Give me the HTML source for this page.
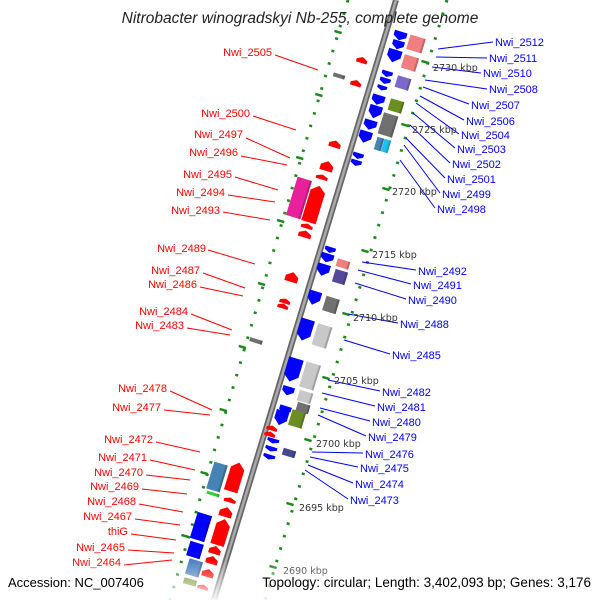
<!DOCTYPE html>
<html><head><meta charset="utf-8"><style>
html,body{margin:0;padding:0;background:#fff}
svg{display:block}
.r{fill:#ff0000;font:11px "Liberation Sans",sans-serif}
.b{fill:#0000ff;font:11px "Liberation Sans",sans-serif}
.k{fill:#333;font:9.5px "DejaVu Sans","Liberation Sans",sans-serif}
</style></head><body>
<svg id="s" width="600" height="600" viewBox="0 0 600 600" xmlns="http://www.w3.org/2000/svg">
<defs>
<linearGradient id="fade" x1="0" y1="0" x2="0" y2="1">
<stop offset="0" stop-color="#fff" stop-opacity="0"/><stop offset="1" stop-color="#fff" stop-opacity="0.9"/>
</linearGradient>
</defs>
<rect width="600" height="600" fill="#fff"/>
<g id="dots"></g>
<line x1="396" y1="0" x2="214" y2="600" stroke="#666" stroke-width="6"/>
<line x1="396" y1="0" x2="214" y2="600" stroke="#aaa" stroke-width="2.5"/>
<g id="feat"></g>
<g stroke="#0000ff" stroke-width="1">
<line x1="438" y1="49" x2="493" y2="42"/><line x1="436" y1="57" x2="487" y2="58"/>
<line x1="432" y1="67" x2="481" y2="73"/><line x1="425" y1="80" x2="487" y2="89"/>
<line x1="423" y1="87" x2="469" y2="104"/><line x1="420" y1="96" x2="464" y2="120"/>
<line x1="416" y1="103" x2="459" y2="134"/><line x1="413" y1="113" x2="455" y2="148"/>
<line x1="410" y1="125" x2="450" y2="163"/><line x1="406" y1="138" x2="445" y2="178"/>
<line x1="404" y1="145" x2="440" y2="193"/><line x1="400" y1="160" x2="435" y2="208"/>
<line x1="362" y1="262" x2="416" y2="270"/><line x1="358" y1="270" x2="411" y2="284"/>
<line x1="355" y1="283" x2="406" y2="299"/><line x1="348" y1="314" x2="398" y2="323"/>
<line x1="344" y1="340" x2="390" y2="354"/><line x1="328" y1="380" x2="380" y2="391"/>
<line x1="322" y1="393" x2="375" y2="406"/><line x1="320" y1="408" x2="370" y2="421"/>
<line x1="318" y1="415" x2="366" y2="436"/><line x1="312" y1="452" x2="363" y2="453"/>
<line x1="310" y1="457" x2="358" y2="467"/><line x1="308" y1="465" x2="353" y2="483"/>
<line x1="305" y1="470" x2="348" y2="499"/>
</g>
<g stroke="#ff0000" stroke-width="1">
<line x1="275" y1="55" x2="318" y2="70"/><line x1="253" y1="116" x2="296" y2="130"/>
<line x1="246" y1="138" x2="290" y2="158"/><line x1="241" y1="156" x2="287" y2="165"/>
<line x1="235" y1="177" x2="278" y2="190"/><line x1="228" y1="195" x2="275" y2="202"/>
<line x1="223" y1="212" x2="270" y2="220"/><line x1="208" y1="250" x2="255" y2="264"/>
<line x1="203" y1="273" x2="245" y2="288"/><line x1="200" y1="287" x2="243" y2="296"/>
<line x1="191" y1="314" x2="232" y2="330"/><line x1="187" y1="328" x2="230" y2="335"/>
<line x1="170" y1="391" x2="212" y2="410"/><line x1="164" y1="410" x2="210" y2="415"/>
<line x1="156" y1="442" x2="200" y2="452"/><line x1="150" y1="460" x2="195" y2="470"/>
<line x1="146" y1="475" x2="190" y2="480"/><line x1="142" y1="489" x2="187" y2="494"/>
<line x1="139" y1="504" x2="183" y2="512"/><line x1="135" y1="519" x2="180" y2="525"/>
<line x1="131" y1="534" x2="176" y2="540"/><line x1="128" y1="550" x2="174" y2="553"/>
<line x1="124" y1="565" x2="172" y2="560"/>
</g>
<g class="b">
<text x="495" y="46">Nwi_2512</text><text x="489" y="62">Nwi_2511</text>
<text x="483" y="77">Nwi_2510</text><text x="489" y="93">Nwi_2508</text>
<text x="471" y="109">Nwi_2507</text><text x="466" y="125">Nwi_2506</text>
<text x="461" y="139">Nwi_2504</text><text x="457" y="153">Nwi_2503</text>
<text x="452" y="168">Nwi_2502</text><text x="447" y="183">Nwi_2501</text>
<text x="442" y="198">Nwi_2499</text><text x="437" y="213">Nwi_2498</text>
<text x="418" y="275">Nwi_2492</text><text x="413" y="289">Nwi_2491</text>
<text x="408" y="304">Nwi_2490</text><text x="400" y="328">Nwi_2488</text>
<text x="392" y="359">Nwi_2485</text><text x="382" y="396">Nwi_2482</text>
<text x="377" y="411">Nwi_2481</text><text x="372" y="426">Nwi_2480</text>
<text x="368" y="441">Nwi_2479</text><text x="365" y="458">Nwi_2476</text>
<text x="360" y="472">Nwi_2475</text><text x="355" y="488">Nwi_2474</text>
<text x="350" y="504">Nwi_2473</text>
</g>
<g class="r" text-anchor="end">
<text x="272" y="56">Nwi_2505</text><text x="250" y="117">Nwi_2500</text>
<text x="243" y="138">Nwi_2497</text><text x="238" y="156">Nwi_2496</text>
<text x="232" y="178">Nwi_2495</text><text x="225" y="196">Nwi_2494</text>
<text x="220" y="214">Nwi_2493</text><text x="206" y="252">Nwi_2489</text>
<text x="200" y="274">Nwi_2487</text><text x="197" y="288">Nwi_2486</text>
<text x="188" y="315">Nwi_2484</text><text x="184" y="329">Nwi_2483</text>
<text x="167" y="392">Nwi_2478</text><text x="161" y="411">Nwi_2477</text>
<text x="153" y="443">Nwi_2472</text><text x="147" y="461">Nwi_2471</text>
<text x="143" y="476">Nwi_2470</text><text x="139" y="490">Nwi_2469</text>
<text x="136" y="505">Nwi_2468</text><text x="132" y="520">Nwi_2467</text>
<text x="128" y="535">thiG</text><text x="125" y="551">Nwi_2465</text>
<text x="121" y="566">Nwi_2464</text>
</g>
<g class="k">
<text x="433" y="71">2730 kbp</text><text x="412" y="133">2725 kbp</text>
<text x="392" y="195">2720 kbp</text><text x="372" y="258">2715 kbp</text>
<text x="353" y="321">2710 kbp</text><text x="334" y="384">2705 kbp</text>
<text x="316" y="447">2700 kbp</text><text x="299" y="511">2695 kbp</text>
<text x="283" y="574">2690 kbp</text>
</g>
<rect x="0" y="560" width="600" height="40" fill="url(#fade)"/>
<text x="300" y="23" text-anchor="middle" style="font:italic 15.5px 'Liberation Sans',sans-serif;fill:#222">Nitrobacter winogradskyi Nb-255, complete genome</text>
<text x="8" y="587" style="font:13px 'Liberation Sans',sans-serif;fill:#000">Accession: NC_007406</text>
<text x="591" y="587" text-anchor="end" style="font:13.5px 'Liberation Sans',sans-serif;fill:#000">Topology: circular; Length: 3,402,093 bp; Genes: 3,176</text>
</svg>
<script>
var NS="http://www.w3.org/2000/svg",A=17;
function el(p,n,a){var e=document.createElementNS(NS,n);for(var k in a)e.setAttribute(k,a[k]);p.appendChild(e);return e;}
var F=document.getElementById("feat"),D=document.getElementById("dots");
el(D,"line",{x1:348,y1:0,x2:170,y2:600,stroke:"#1a8a1a","stroke-width":3,"stroke-dasharray":"2.5 10.5"});
el(D,"line",{x1:447,y1:0,x2:265,y2:600,stroke:"#1a8a1a","stroke-width":3,"stroke-dasharray":"2.5 10.5"});
function tick(x,y){el(D,"line",{x1:x-3.6,y1:y-1.1,x2:x+3.6,y2:y+1.1,stroke:"#1a8a1a","stroke-width":2.5});}
[[425,62],[405,125],[386,189],[365,251],[346,314],[326,378],[308,440],[290,504],[273,567]].forEach(function(t){tick(t[0],t[1]);});
[32,95,158,221,284,347,410,473,536].forEach(function(y){tick(338-0.3036*(y-32),y);});
var L=[
[400,36,13,9,"b"],[398,45,12,9,"b"],[394,56,14,13,"b"],
[416,44,16,15,"x","#f08080"],[410,63,15,14,"x","#f08080"],
[387,74,11,6,"b"],[385,81,11,6,"b"],[382,88,10,5,"b"],[403,83,14,12,"x","#7b68c8"],
[378,100,13,10,"b"],[375,112,13,13,"b"],[370,125,13,10,"b"],[365,137,13,12,"b"],
[396,106,14,12,"x","#6b8e23"],[388,125,15,22,"x","#707070"],[379,144,7,13,"x","#4682b4"],[386,146,7,13,"x","#1ec0f0"],
[358,156,11,6,"b"],[356,163,11,6,"b"],
[330,250,11,6,"b"],[327,258,13,9,"b"],[323,270,13,12,"b"],[343,264,13,8,"x","#f08080"],[340,277,13,13,"x","#55489a"],
[314,298,13,14,"b"],[331,305,14,15,"x","#707070"],[305,330,14,22,"b"],[322,336,15,22,"x","#c8c8c8"],
[293,370,15,24,"b"],[310,376,15,26,"x","#c8c8c8"],[288,391,12,9,"b"],[305,397,14,11,"x","#c8c8c8"],
[285,410,12,8,"b"],[303,408,13,9,"x","#707070"],[281,418,13,15,"b"],[297,419,14,16,"x","#6b8e23"],
[273,441,12,5,"b"],[271,449,12,5,"b"],[269,457,12,5,"b"],[289,453,13,7,"x","#484890"],
[362,60,11,6,"r"],[356,83,11,6,"r"],[339,76,12,4,"x","#707070"],
[335,144,12,7,"r"],[327,166,13,10,"r"],[322,177,12,5,"r"],
[299,198,15,40,"x","#e8209c"],[314,204,15,38,"r"],[307,226,12,5,"r"],[305,234,13,7,"r"],
[292,277,13,10,"r"],[285,301,11,5,"r"],[283,306,11,5,"r"],[256,341,13,4,"x","#707070"],
[272,428,11,5,"r"],[270,434,11,5,"r"],
[217,477,14,28,"x","#4682b4"],[213,494,13,3,"x","#32cd32"],[235,477,14,30,"r"],[230,500,12,5,"r"],
[226,512,13,10,"r"],[221,532,14,27,"r"],[215,550,12,8,"r"],[212,560,12,8,"r"],[208,573,12,8,"r"],[203,587,11,5,"r"],
[201,527,15,27,"x","#0000ff"],[195,550,14,15,"x","#0000ff"],[194,568,14,16,"x","#4a7fc0"],[190,582,13,6,"x","#6b8e23"]
];
L.forEach(function(f){var g=el(F,"g",{transform:"translate("+f[0]+","+f[1]+") rotate("+A+")"});
 var w=f[2]/2,h=f[3]/2,a=Math.min(f[3]*0.45,6),p;
 if(f[4]=="x"){el(g,"rect",{x:-w,y:-h,width:f[2],height:f[3],fill:f[5]});
  el(g,"rect",{x:w-2,y:-h,width:2,height:f[3],fill:"#000","fill-opacity":0.2});}
 else if(f[4]=="b"){p=[-w,-h,w,-h,w,h-a,0,h,-w,h-a];el(g,"polygon",{points:p.join(" "),fill:"#0000ff"});}
 else{p=[-w,h,w,h,w,-h+a,0,-h,-w,-h+a];el(g,"polygon",{points:p.join(" "),fill:"#ff0000"});}
});
</script>
</body></html>
